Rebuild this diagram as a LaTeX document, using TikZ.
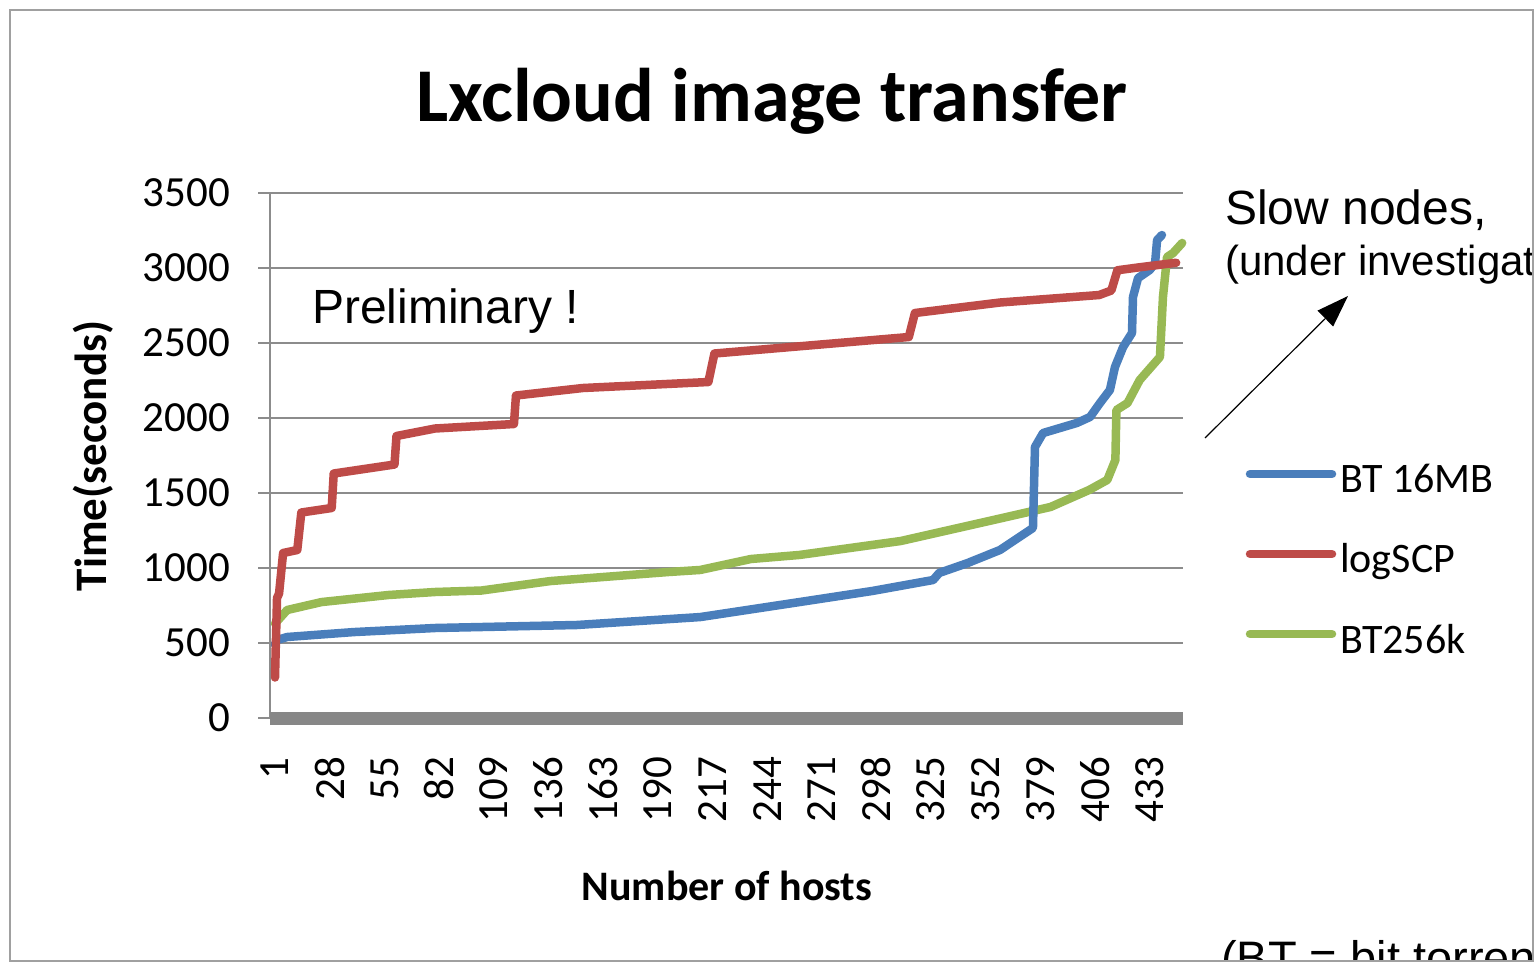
\documentclass[tikz,border=0pt]{standalone}
\usepackage{fontspec}
\setmainfont{Carlito}
\newfontfamily\arialfont{Liberation Sans}
\usetikzlibrary{arrows.meta}

\definecolor{seriesblue}{HTML}{4A7EBB}
\definecolor{seriesred}{HTML}{BE4B48}
\definecolor{seriesgreen}{HTML}{98B954}
\definecolor{gridgray}{HTML}{8C8C8C}
\definecolor{axisgray}{HTML}{878787}
\definecolor{framegray}{HTML}{A0A0A0}

\newcommand{\sz}[1]{\fontsize{#1}{#1}\selectfont}

\begin{document}
\begin{tikzpicture}[x=1pt,y=-1pt,
  frame/.style={draw=framegray,line width=2pt},
  gridline/.style={draw=gridgray,line width=2.2pt},
  series/.style={line width=8.5pt,line join=round,line cap=round},
  ytick/.style={anchor=east,inner sep=0pt,font=\sz{43}},
  xtick/.style={anchor=east,rotate=90,inner sep=0pt,font=\sz{43}},
  axistitle/.style={inner sep=0pt,font=\bfseries\sz{42}},
  legendtext/.style={anchor=base west,inner sep=0pt,font=\sz{42}},
  note/.style={anchor=base west,inner sep=0pt,font=\arialfont}]

\useasboundingbox (0,0) rectangle (1537,963);
\clip (0,0) rectangle (1537,963);

% title
\node[anchor=base,inner sep=0pt,font=\bfseries\sz{76}] (title) at (772,122) {Lxcloud image transfer};

% horizontal grid lines and value labels
\foreach \v in {0,500,1000,1500,2000,2500,3000,3500}{
  \pgfmathsetmacro\yy{718-0.15*\v}
  \draw[gridline] (258,\yy) -- (1183,\yy);
  \node[ytick] (ytick\v) at (230,\yy) {\v};
}

% value axis
\draw[gridline] (270,193) -- (270,718);
% category axis
\fill[axisgray] (270,711.5) rectangle (1183,725);

% host labels
\foreach \h in {1,28,...,433}{
  \pgfmathsetmacro\xx{275+2.025*(\h-1)}
  \node[xtick] (xtick\h) at (\xx,757) {\h};
}

% axis titles
\node[axistitle,font=\bfseries\sz{45},rotate=90] (ytitle) at (93,456) {Time(seconds)};
\node[axistitle,anchor=base] (xtitle) at (727,900) {Number of hosts};

% data series: host number vs. transfer time in seconds
\begin{scope}[shift={(272.975pt,-718pt)},x=2.025pt,y=0.15pt]
  \draw[series,seriesgreen] (1,630) -- (7,720) -- (24,773) -- (57,820) -- (80,840)
    -- (103,850) -- (137,913) -- (195,973) -- (211,987) -- (236,1060) -- (260,1087)
    -- (310,1180) -- (359,1330) -- (384,1407) -- (403,1520) -- (412,1587)
    -- (416,1720) -- (416.5,2053) -- (422,2100) -- (428,2253) -- (438,2407)
    -- (439.5,2807) -- (441.5,3073) -- (444.5,3100) -- (449,3167);
  \draw[series,seriesblue] (1,490) -- (2,520) -- (7,540) -- (40,573) -- (80,600)
    -- (150,620) -- (211,673) -- (260,773) -- (296,847) -- (326,920) -- (329,967)
    -- (343,1033) -- (359,1120) -- (375.3,1267) -- (376.3,1807) -- (380.3,1900)
    -- (397,1967) -- (403.5,2007) -- (408.4,2100) -- (413.3,2187) -- (415.8,2340)
    -- (419.8,2473) -- (424.2,2567) -- (424.7,2807) -- (427.2,2933) -- (433,2987)
    -- (435.6,3033) -- (436.6,3187) -- (439,3220);
  \draw[series,seriesred] (1,270) -- (2,800) -- (3,830) -- (5,1100) -- (12,1120)
    -- (14,1370) -- (29,1400) -- (30,1630) -- (60,1690) -- (61,1880) -- (80,1930)
    -- (119,1960) -- (120,2150) -- (153,2200) -- (215,2240) -- (218,2430)
    -- (314,2540) -- (317,2700) -- (359,2770) -- (408,2820) -- (414,2850)
    -- (417,2985) -- (428,3005) -- (446,3035);
\end{scope}

% legend
\draw[series,seriesblue]  (1250,474) -- (1332,474);
\draw[series,seriesred]   (1250,554) -- (1332,554);
\draw[series,seriesgreen] (1250,634) -- (1332,634);
\node[legendtext] (legblue)  at (1340,492) {BT 16MB};
\node[legendtext] (legred)   at (1340,572) {logSCP};
\node[legendtext] (leggreen) at (1340,653) {BT256k};

% annotations, cut off by the slide frame
\begin{scope}
  \clip (0,0) rectangle (1533,961);
  \node[note,font=\arialfont\sz{48}] (prelim) at (312,323) {Preliminary !};
  \node[note,font=\arialfont\sz{48}] (slow) at (1225,224) {Slow nodes,};
  \node[note,font=\arialfont\sz{42}] (investig) at (1225,275) {(under investigation)};
  \node[note,font=\arialfont\sz{47}] (btnote) at (1221,974) {(BT = bit torrent)};
\end{scope}

\coordinate (arrowtail) at (1205,438);
\coordinate (arrowtip) at (1348,296);
\draw[line width=1.2pt,-{Triangle[length=32pt,width=22pt]}] (arrowtail) -- (arrowtip);

% slide frame
\draw[frame] (10,10) rectangle (1533,961);

\end{tikzpicture}
\end{document}
